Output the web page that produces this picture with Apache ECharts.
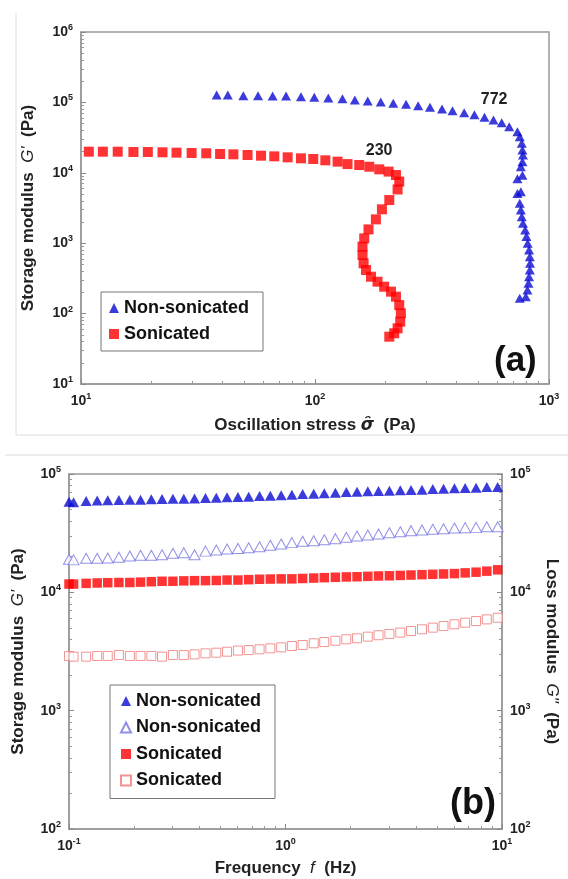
<!DOCTYPE html>
<html>
<head>
<meta charset="utf-8">
<script src="https://cdn.jsdelivr.net/npm/echarts@6.0.0/dist/echarts.min.js"></script>
<style>
html, body { margin: 0; padding: 0; background: #fff; }
#chart { width: 568px; height: 879px; }
</style>
</head>
<body>
<div id="chart"></div>
<script>
var FONT = '"Liberation Sans", Arial, sans-serif';

// (a) stress sweep: oscillation stress (Pa) / storage modulus G' (Pa)
var stressNon = [38.0, 42.4, 49.4, 57.1, 65.9, 75.2, 87.1, 99.3, 114, 131,
    148, 168, 191, 216, 245, 276, 310, 349, 387, 434,
    480, 530, 579, 628, 676, 733, 750, 765, 770, 774,
    770, 758, 770, 733, 758, 733, 750, 758, 765, 774,
    791, 801, 811, 822, 828, 830, 828, 822, 817, 809,
    796, 750];
var gNon = [127000, 127000, 124500, 124500, 123000, 123000, 120600, 118000, 115400, 113000,
    108100, 104700, 101300, 97000, 93900, 89800, 85100, 80500, 76200, 71400,
    66900, 61400, 56200, 51500, 45200, 38400, 32600, 26300, 21100, 17900,
    14400, 12200, 9200, 8200, 5400, 5100, 3690, 2960, 2380, 1920,
    1540, 1240, 997, 801, 643, 518, 416, 334, 269, 216,
    174, 165];
var stressSon = [10.8, 12.4, 14.35, 16.75, 19.3, 22.3, 25.6, 29.7, 34.3, 39.3,
    44.8, 51.5, 58.8, 67.0, 76.4, 87.1, 98.3, 110.7, 124.9, 137.7,
    154.5, 170.6, 188.2, 206.3, 221.8, 229.1, 225.4, 207.7, 193.2, 182.0,
    169.3, 162.3, 159.6, 159.6, 161.3, 165.2, 173.5, 185.0, 197.5, 211.2,
    221.8, 229.1, 232.8, 231.3, 225.4, 218.1, 207.7];
var gSon = [19950, 19950, 19950, 19750, 19750, 19540, 19330, 19110, 18910, 18500,
    18290, 17900, 17510, 17130, 16590, 16060, 15710, 15040, 14400, 13300,
    12900, 12200, 11200, 10400, 9300, 7500, 5800, 4100, 3030, 2180,
    1570, 1170, 892, 679, 518, 416, 334, 284, 241, 205,
    174, 132, 101, 76.8, 61.8, 52.5, 47.0];
var yieldText = ['772', '230'];

// (b) frequency sweep: frequency (Hz) / G' and G'' (Pa)
var freq = [0.100, 0.105, 0.120, 0.135, 0.151, 0.170, 0.191, 0.214, 0.240, 0.269,
    0.302, 0.339, 0.380, 0.427, 0.479, 0.537, 0.603, 0.676, 0.759, 0.851,
    0.955, 1.07, 1.20, 1.35, 1.51, 1.70, 1.91, 2.14, 2.40, 2.69,
    3.02, 3.39, 3.80, 4.27, 4.79, 5.37, 6.03, 6.76, 7.59, 8.51,
    9.55];
var gpNon = [58400, 57700, 59200, 59600, 60000, 60300, 60700, 60700, 61100, 61500,
    61800, 61800, 62200, 62600, 63100, 63500, 63900, 64300, 65200, 65600,
    66000, 66900, 67800, 68200, 68700, 69500, 70500, 70900, 71400, 71800,
    72300, 72800, 73200, 73700, 74600, 75100, 75600, 76200, 76600, 77600,
    77600];
var gppNon = [19000, 18800, 19400, 19400, 19500, 19800, 20300, 20600, 20600, 20800,
    21400, 21600, 20800, 22300, 22800, 23200, 23500, 23800, 24300, 25000,
    25600, 26300, 27000, 27300, 27800, 28400, 29200, 29900, 30500, 31100,
    31900, 32500, 33200, 33600, 34100, 34500, 35000, 35200, 35400, 35800,
    35800];
var gpSon = [11750, 11750, 11900, 12000, 12060, 12100, 12100, 12200, 12300, 12400,
    12400, 12500, 12550, 12550, 12600, 12700, 12700, 12800, 12900, 12950,
    13000, 13000, 13100, 13200, 13300, 13400, 13500, 13550, 13650, 13750,
    13800, 13900, 14000, 14100, 14200, 14300, 14400, 14600, 14800, 15100,
    15500];
var gppSon = [2900, 2860, 2860, 2900, 2900, 2950, 2900, 2900, 2900, 2860,
    2950, 2950, 2990, 3050, 3090, 3150, 3220, 3250, 3300, 3360,
    3430, 3520, 3590, 3710, 3800, 3900, 4010, 4090, 4220, 4340,
    4450, 4570, 4710, 4870, 5030, 5190, 5370, 5540, 5720, 5910,
    6100];

function pairs(xs, ys) {
    var out = [];
    for (var i = 0; i < xs.length; i++) out.push([xs[i], ys[i]]);
    return out;
}

function powLabel(v) {
    var e = Math.round(Math.log(v) / Math.LN10);
    return '{n|10}{e|' + (e < 0 ? '-' + (-e) : e) + '}';
}

var tickRich = {
    n: { fontFamily: FONT, fontSize: 14, fontWeight: 'bold', color: '#222', lineHeight: 18 },
    e: { fontFamily: FONT, fontSize: 9, fontWeight: 'bold', color: '#222', lineHeight: 9, verticalAlign: 'top' }
};
var nameRich = {
    i: { fontFamily: FONT, fontSize: 17, fontStyle: 'italic', fontWeight: 'normal', color: '#222' },
    s: { fontFamily: '"DejaVu Sans", sans-serif', fontSize: 17, fontStyle: 'italic', color: '#222' }
};

function logAxis(gridIndex, min, max, extra) {
    var ax = {
        type: 'log',
        logBase: 10,
        gridIndex: gridIndex,
        min: min,
        max: max,
        axisLine: { show: true, lineStyle: { color: '#999', width: 1.5 } },
        axisTick: { show: true, inside: true, length: 5, lineStyle: { color: '#888' } },
        minorTick: { show: true, splitNumber: 9, length: 3, lineStyle: { color: '#999' } },
        splitLine: { show: false },
        axisLabel: { formatter: powLabel, rich: tickRich, margin: 8 },
        nameLocation: 'middle',
        nameTextStyle: { fontFamily: FONT, fontSize: 17, fontWeight: 'bold', color: '#222', rich: nameRich }
    };
    for (var k in extra) ax[k] = extra[k];
    return ax;
}

var myChart = echarts.init(document.getElementById('chart'), null, { renderer: 'canvas' });

var option = {
    backgroundColor: '#fff',
    animation: false,
    grid: [
        { left: 81, top: 32, width: 468, height: 352, show: true, borderColor: '#999', borderWidth: 1.5 },
        { left: 69, top: 474, width: 438, height: 355, show: true, borderColor: '#999', borderWidth: 1.5 }
    ],
    xAxis: [
        logAxis(0, 10, 1000, { name: 'Oscillation stress {s|σ̑}  (Pa)', nameGap: 33 }),
        logAxis(1, 0.1, 10, { name: 'Frequency  {i|f}  (Hz)', nameGap: 31 })
    ],
    yAxis: [
        logAxis(0, 10, 1000000, { name: 'Storage modulus  {i|G\'}  (Pa)', nameGap: 44 }),
        logAxis(1, 100, 100000, { name: 'Storage modulus  {i|G\'}  (Pa)', nameGap: 42 }),
        logAxis(1, 100, 100000, { position: 'right', name: 'Loss modulus  {i|G"}  (Pa)', nameGap: 41, nameRotate: -90 })
    ],
    legend: [
        {
            orient: 'vertical', left: 101, top: 292,
            data: ['Non-sonicated', 'Sonicated'],
            itemWidth: 10, itemHeight: 10, itemGap: 8,
            padding: [7, 14, 8, 8],
            borderColor: '#777', borderWidth: 1,
            textStyle: { fontFamily: FONT, fontSize: 18, fontWeight: 'bold', color: '#111', lineHeight: 18 },
            formatter: function (n) { return n.trim(); }
        },
        {
            orient: 'vertical', left: 110, top: 685,
            data: ['Non-sonicated', 'Non-sonicated ', 'Sonicated', 'Sonicated '],
            itemWidth: 10, itemHeight: 10, itemGap: 8.5,
            padding: [7, 14, 9, 10],
            borderColor: '#777', borderWidth: 1,
            textStyle: { fontFamily: FONT, fontSize: 18, fontWeight: 'bold', color: '#111', lineHeight: 18 },
            formatter: function (n) { return n.trim(); }
        }
    ],
    graphic: [
        { type: 'line', shape: { x1: 16, y1: 13, x2: 16, y2: 435 }, style: { stroke: '#dcdcdc', lineWidth: 1 } },
        { type: 'line', shape: { x1: 16, y1: 435, x2: 568, y2: 435 }, style: { stroke: '#dcdcdc', lineWidth: 1 } },
        { type: 'line', shape: { x1: 5, y1: 455, x2: 568, y2: 455 }, style: { stroke: '#dcdcdc', lineWidth: 1 } },
        { type: 'text', left: 494, top: 344, style: { text: '(a)', font: 'bold 35px "Liberation Sans"', fill: '#111' } },
        { type: 'text', left: 450, top: 786, style: { text: '(b)', font: 'bold 36px "Liberation Sans"', fill: '#111' } }
    ],
    series: [
        {
            name: 'Non-sonicated', type: 'scatter', xAxisIndex: 0, yAxisIndex: 0,
            symbol: 'triangle', symbolSize: [10, 9],
            itemStyle: { color: '#0a0ad2' },
            data: pairs(stressNon, gNon),
            markPoint: {
                symbol: 'circle', symbolSize: 0, silent: true,
                label: { show: true, position: 'inside', fontFamily: FONT, fontSize: 16, fontWeight: 'bold', color: '#222' },
                data: [{ coord: [583, 108000], value: yieldText[0] }]
            }
        },
        {
            name: 'Sonicated', type: 'scatter', xAxisIndex: 0, yAxisIndex: 0,
            symbol: 'rect', symbolSize: 10,
            itemStyle: { color: '#f00' },
            data: pairs(stressSon, gSon),
            markPoint: {
                symbol: 'circle', symbolSize: 0, silent: true,
                label: { show: true, position: 'inside', fontFamily: FONT, fontSize: 16, fontWeight: 'bold', color: '#222' },
                data: [{ coord: [188, 20400], value: yieldText[1] }]
            }
        },
        {
            name: 'Non-sonicated', type: 'scatter', xAxisIndex: 1, yAxisIndex: 1,
            symbol: 'triangle', symbolSize: [11, 10],
            itemStyle: { color: '#0a0ad2' },
            data: pairs(freq, gpNon)
        },
        {
            name: 'Non-sonicated ', type: 'scatter', xAxisIndex: 1, yAxisIndex: 2,
            symbol: 'triangle', symbolSize: [11, 10],
            itemStyle: { color: '#fff', borderColor: '#7474e0', borderWidth: 1 },
            data: pairs(freq, gppNon)
        },
        {
            name: 'Sonicated', type: 'scatter', xAxisIndex: 1, yAxisIndex: 1,
            symbol: 'rect', symbolSize: 9.5,
            itemStyle: { color: '#f00' },
            data: pairs(freq, gpSon)
        },
        {
            name: 'Sonicated ', type: 'scatter', xAxisIndex: 1, yAxisIndex: 2,
            symbol: 'rect', symbolSize: 9,
            itemStyle: { color: '#fff', borderColor: '#f07878', borderWidth: 1 },
            data: pairs(freq, gppSon)
        }
    ]
};

myChart.setOption(option);
</script>
</body>
</html>
